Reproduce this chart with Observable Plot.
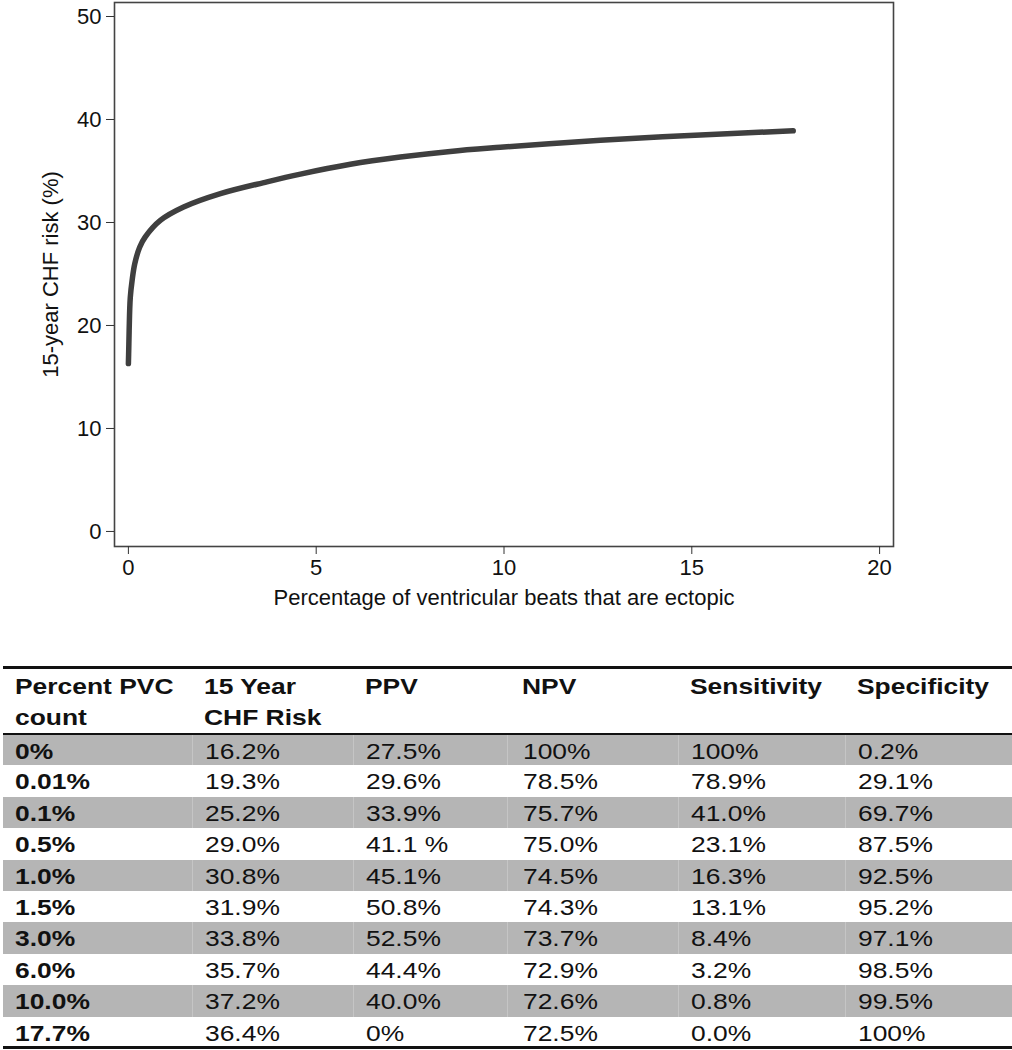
<!DOCTYPE html>
<html>
<head>
<meta charset="utf-8">
<script src="https://cdn.jsdelivr.net/npm/d3@7"></script>
<script src="https://cdn.jsdelivr.net/npm/@observablehq/plot@0.6"></script>
<style>
  html, body { margin: 0; padding: 0; background: #fff; }
  body { width: 1012px; height: 1050px; overflow: hidden; font-family: "Liberation Sans", Arial, Helvetica, sans-serif; }
  #chart svg { display: block; }
  #tbl { margin: 50px 0 0 3px; border-collapse: collapse; table-layout: fixed; width: 1009px; color: #111; }
  #tbl th, #tbl td { padding: 0 0 0 12px; text-align: left; vertical-align: top; white-space: pre-line; overflow: visible; }
  #tbl th { font-weight: bold; font-size: 22px; line-height: 31px; height: 62px; padding-top: 2px; box-sizing: border-box; border-top: 3px solid #111; border-bottom: 2px solid #111; }
  #tbl tbody tr { height: 31.4px; }
  #tbl td { font-size: 22px; line-height: 22px; height: 31.4px; padding-top: 6px; padding-bottom: 0; box-sizing: border-box; }
  #tbl td:first-child { font-weight: bold; }
  #tbl td + td { border-left: 1px solid rgba(255,255,255,0.22); }
  #tbl tbody tr:nth-child(odd) td { background: #b5b5b5; }
  #tbl tbody tr:last-child td { border-bottom: 3px solid #111; }
  #tbl .s { display: inline-block; transform: scaleX(1.2); transform-origin: left center; }
  #tbl th:nth-child(4), #tbl td:nth-child(4) { padding-left: 15px; }
</style>
</head>
<body>
<div id="chart"></div>
<div id="table"></div>
<script>
// ---- chart data ----
const pvcPercent = [0, 0.01, 0.02, 0.05, 0.10, 0.17, 0.30, 0.45, 0.85, 1.47, 2.45, 3.69, 4.58, 5.91, 7.24, 8.57, 9.90, 11.2, 12.57, 15.23, 17.7];
const chfRisk    = [16.3, 17.8, 19.5, 22.7, 24.4, 26.0, 27.6, 28.6, 30.2, 31.5, 32.8, 33.95, 34.7, 35.65, 36.35, 36.9, 37.3, 37.65, 37.98, 38.5, 38.9];
const xTicks = [0, 5, 10, 15, 20];
const yTicks = [0, 10, 20, 30, 40, 50];
const xLabel = "Percentage of ventricular beats that are ectopic";
const yLabel = "15-year CHF risk (%)";

// ---- table data ----
const headers = ["Percent PVC\ncount", "15 Year\nCHF Risk", "PPV", "NPV", "Sensitivity", "Specificity"];
const pvcCount    = ["0%", "0.01%", "0.1%", "0.5%", "1.0%", "1.5%", "3.0%", "6.0%", "10.0%", "17.7%"];
const risk15      = ["16.2%", "19.3%", "25.2%", "29.0%", "30.8%", "31.9%", "33.8%", "35.7%", "37.2%", "36.4%"];
const ppv         = ["27.5%", "29.6%", "33.9%", "41.1 %", "45.1%", "50.8%", "52.5%", "44.4%", "40.0%", "0%"];
const npv         = ["100%", "78.5%", "75.7%", "75.0%", "74.5%", "74.3%", "73.7%", "72.9%", "72.6%", "72.5%"];
const sensitivity = ["100%", "78.9%", "41.0%", "23.1%", "16.3%", "13.1%", "8.4%", "3.2%", "0.8%", "0.0%"];
const specificity = ["0.2%", "29.1%", "69.7%", "87.5%", "92.5%", "95.2%", "97.1%", "98.5%", "99.5%", "100%"];
const colWidths = [189, 161, 154, 171, 167, 167];

const data = pvcPercent.map((x, i) => ({x, y: chfRisk[i]}));

const chart = Plot.plot({
  width: 1012,
  height: 616,
  marginLeft: 114,
  marginRight: 119,
  marginTop: 2,
  marginBottom: 70,
  style: {fontFamily: "'Liberation Sans', Arial, Helvetica, sans-serif", fontSize: "22px", color: "#111", background: "#fff", overflow: "visible"},
  x: {domain: [-0.37, 20.37]},
  y: {domain: [-1.46, 51.36]},
  marks: [
    Plot.frame({stroke: "#444", strokeWidth: 1.6}),
    Plot.axisX({ticks: xTicks, tickSize: 8, tickPadding: 5, fontSize: 22, tickFormat: d3.format("d"), label: xLabel, labelAnchor: "center", labelArrow: "none", labelOffset: 58, stroke: "#333"}),
    Plot.axisY({ticks: yTicks, tickSize: 8, tickPadding: 5, fontSize: 22, tickFormat: d3.format("d"), label: yLabel, labelAnchor: "center", labelArrow: "none", labelOffset: 72, stroke: "#333"}),
    Plot.line(data, {x: "x", y: "y", stroke: "#3f3f3f", strokeWidth: 5.5, strokeLinecap: "round", strokeLinejoin: "round", curve: "catmull-rom"})
  ]
});
document.getElementById("chart").appendChild(chart);

// ---- table ----
const cols = [pvcCount, risk15, ppv, npv, sensitivity, specificity];
const table = d3.select("#table").append("table").attr("id", "tbl");
table.append("colgroup").selectAll("col").data(colWidths).join("col").style("width", d => d + "px");
table.append("thead").append("tr").selectAll("th").data(headers).join("th")
  .append("span").attr("class", "s").text(d => d);
table.append("tbody").selectAll("tr").data(pvcCount.map((_, i) => cols.map(c => c[i]))).join("tr")
  .selectAll("td").data(d => d).join("td")
  .append("span").attr("class", "s").text(d => d);
</script>
</body>
</html>
